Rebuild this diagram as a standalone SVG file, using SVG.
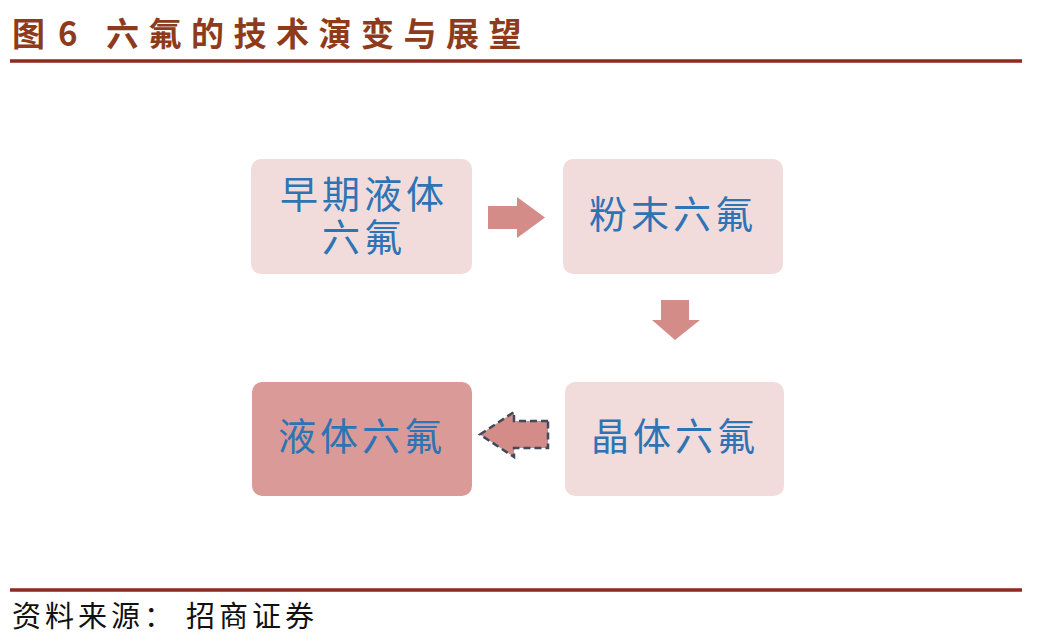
<svg xmlns="http://www.w3.org/2000/svg" width="1040" height="644" viewBox="0 0 1040 644">
<defs>
<style>
.title{font-family:"Noto Sans CJK SC","Noto Sans",sans-serif;font-weight:bold;font-size:33px;fill:#8E3B1B}
.rule{stroke:#8B2A1E;stroke-width:3.5}
.box{fill:#F2DCDB}
.box.dark{fill:#DA9A98}
.lbl{font-family:"Noto Sans CJK SC",sans-serif;font-size:38px;fill:#2E74B5;letter-spacing:4px;text-anchor:middle}
.arrow{fill:#D48C89}
.dashed{stroke:#3F4A5C;stroke-width:2.5;stroke-dasharray:7 4}
.src{font-family:"Noto Sans CJK SC",serif;font-size:29px;fill:#111;letter-spacing:4px}
</style>
</defs>
<rect width="1040" height="644" fill="#fff"/>
<g id="title">
<text class="title" y="46"><tspan x="12">图</tspan><tspan x="58">6</tspan><tspan x="106" letter-spacing="9.5">六氟的技术演变与展望</tspan></text>
<line class="rule" x1="10" y1="61" x2="1022" y2="61"/>
</g>
<g id="node-early">
<rect class="box" x="251" y="159" width="221" height="115" rx="10"/>
<text class="lbl"><tspan x="364" y="208">早期液体</tspan><tspan x="364" y="251">六氟</tspan></text>
</g>
<g id="node-powder">
<rect class="box" x="563" y="159" width="220" height="115" rx="10"/>
<text class="lbl" x="673" y="228">粉末六氟</text>
</g>
<g id="node-crystal">
<rect class="box" x="565" y="382" width="219" height="114" rx="10"/>
<text class="lbl" x="675" y="450">晶体六氟</text>
</g>
<g id="node-liquid">
<rect class="box dark" x="252" y="382" width="220" height="114" rx="10"/>
<text class="lbl" x="362" y="450">液体六氟</text>
</g>
<g id="connectors">
<polygon class="arrow" points="488,206 517,206 517,197 545,217.5 517,238 517,229 488,229"/>
<polygon class="arrow" points="661,300 689,300 689,320 700,320 675,340 652,320 661,320"/>
<polygon class="arrow dashed" points="548,421 514,421 514,412 480,434.5 514,457 514,448 548,448"/>
</g>
<g id="footer">
<line class="rule" x1="10" y1="590" x2="1022" y2="590"/>
<text class="src" y="627"><tspan x="12">资料来源：</tspan><tspan x="186">招商证券</tspan></text>
</g>
</svg>
